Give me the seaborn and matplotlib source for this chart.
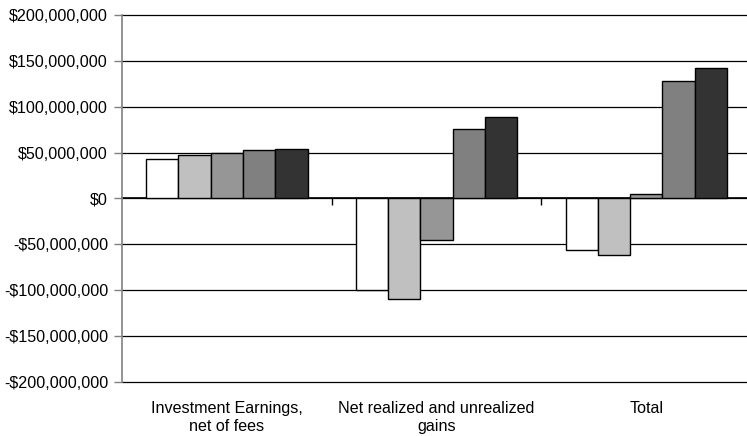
import matplotlib
matplotlib.use('Agg')
import matplotlib.pyplot as plt
import matplotlib.ticker as mticker
import pandas as pd
import seaborn as sns

# values (dollars)
categories = ['Investment Earnings,\nnet of fees', 'Net realized and unrealized\ngains', 'Total']
series = ['S1', 'S2', 'S3', 'S4', 'S5']
s1 = [43.5e6, -99.3e6, -55.8e6]
s2 = [47.8e6, -109.5e6, -61.7e6]
s3 = [49.6e6, -44.8e6, 4.8e6]
s4 = [52.5e6, 76.0e6, 128.5e6]
s5 = [53.6e6, 89.0e6, 142.6e6]
colors = ['#FFFFFF', '#C0C0C0', '#969696', '#808080', '#333333']

rows = []
for name, vals in zip(series, [s1, s2, s3, s4, s5]):
    for cat, v in zip(categories, vals):
        rows.append({'category': cat, 'series': name, 'value': v})
df = pd.DataFrame(rows)

sns.set_style('white')
plt.rcParams['font.family'] = ['Liberation Sans', 'DejaVu Sans']

W, H = 747, 436
fig = plt.figure(figsize=(W / 100, H / 100), dpi=100)
ax = fig.add_axes([122 / W, (H - 382) / H, (W - 122) / W, 367 / H])

sns.barplot(data=df, x='category', y='value', hue='series', order=categories,
            hue_order=series, palette=colors, width=0.77, edgecolor='black',
            linewidth=1, saturation=1, legend=False, ax=ax)

ax.set_ylim(-200e6, 200e6)
ax.set_yticks(range(-200_000_000, 200_000_001, 50_000_000))
ax.yaxis.set_major_formatter(mticker.FuncFormatter(
    lambda v, p: ('-$' if v < 0 else '$') + f'{abs(v):,.0f}'))
ax.set_xlim(-0.5, 2.48)
ax.set_axisbelow(True)
ax.grid(axis='y', color='black', linewidth=0.9)
ax.grid(axis='x', visible=False)
for gl in ax.get_ygridlines():
    gl.set_clip_on(False)

for s in ['top', 'right', 'bottom']:
    ax.spines[s].set_visible(False)
ax.spines['left'].set_color('#808080')
ax.spines['left'].set_linewidth(1.2)

ax.tick_params(axis='y', left=True, length=6, width=1, color='#808080',
               labelsize=11.6, pad=4, labelcolor='black')
ax.tick_params(axis='x', bottom=False, length=0, labelsize=11.6, pad=14,
               labelcolor='black')
ax.set_xlabel('')
ax.set_ylabel('')

# category axis along zero line with small separators pointing down
sec = ax.secondary_xaxis(0.5)
sec.set_xticks([0.5, 1.5])
sec.set_xticklabels(['', ''])
sec.tick_params(length=5, width=1, color='black', direction='in')
sec.spines['top'].set_color('black')
sec.spines['top'].set_linewidth(1.2)
sec.spines['bottom'].set_color('black')
sec.spines['bottom'].set_linewidth(1.2)

fig.savefig('out.png', dpi=100)
